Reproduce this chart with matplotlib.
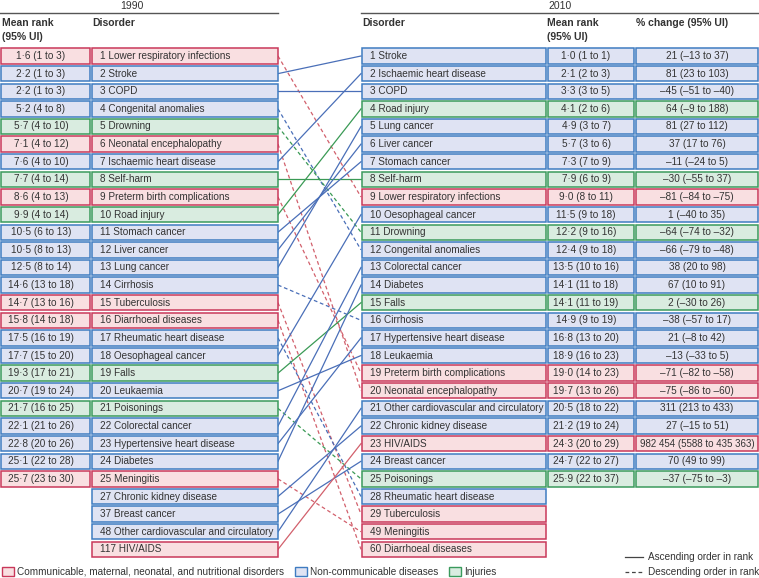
import matplotlib
matplotlib.use("Agg")
import matplotlib.pyplot as plt
from matplotlib.patches import Rectangle

plt.rcParams['font.family'] = ['Liberation Sans', 'DejaVu Sans']

# ---------------- data ----------------
dis1990 = ["Lower respiratory infections", "Stroke", "COPD", "Congenital anomalies",
           "Drowning", "Neonatal encephalopathy", "Ischaemic heart disease", "Self-harm",
           "Preterm birth complications", "Road injury", "Stomach cancer", "Liver cancer",
           "Lung cancer", "Cirrhosis", "Tuberculosis", "Diarrhoeal diseases",
           "Rheumatic heart disease", "Oesophageal cancer", "Falls", "Leukaemia",
           "Poisonings", "Colorectal cancer", "Hypertensive heart disease", "Diabetes",
           "Meningitis", "Chronic kidney disease", "Breast cancer",
           "Other cardiovascular and circulatory", "HIV/AIDS"]
rank1990 = [1, 2, 3, 4, 5, 6, 7, 8, 9, 10, 11, 12, 13, 14, 15, 16, 17, 18, 19, 20,
            21, 22, 23, 24, 25, 27, 37, 48, 117]
cat1990 = ["C", "N", "N", "N", "I", "C", "N", "I", "C", "I", "N", "N", "N", "N", "C", "C",
           "N", "N", "I", "N", "I", "N", "N", "N", "C", "N", "N", "N", "C"]
mean1990 = [1.6, 2.2, 2.2, 5.2, 5.7, 7.1, 7.6, 7.7, 8.6, 9.9, 10.5, 10.5, 12.5, 14.6,
            14.7, 15.8, 17.5, 17.7, 19.3, 20.7, 21.7, 22.1, 22.8, 25.1, 25.7]
lo1990 = [1, 1, 1, 4, 4, 4, 4, 4, 4, 4, 6, 8, 8, 13, 13, 14, 16, 15, 17, 19, 16, 21, 20, 22, 23]
hi1990 = [3, 3, 3, 8, 10, 12, 10, 14, 13, 14, 13, 13, 14, 18, 16, 18, 19, 20, 21, 24, 25,
          26, 26, 28, 30]

dis2010 = ["Stroke", "Ischaemic heart disease", "COPD", "Road injury", "Lung cancer",
           "Liver cancer", "Stomach cancer", "Self-harm", "Lower respiratory infections",
           "Oesophageal cancer", "Drowning", "Congenital anomalies", "Colorectal cancer",
           "Diabetes", "Falls", "Cirrhosis", "Hypertensive heart disease", "Leukaemia",
           "Preterm birth complications", "Neonatal encephalopathy",
           "Other cardiovascular and circulatory", "Chronic kidney disease", "HIV/AIDS",
           "Breast cancer", "Poisonings", "Rheumatic heart disease", "Tuberculosis",
           "Meningitis", "Diarrhoeal diseases"]
rank2010 = [1, 2, 3, 4, 5, 6, 7, 8, 9, 10, 11, 12, 13, 14, 15, 16, 17, 18, 19, 20,
            21, 22, 23, 24, 25, 28, 29, 49, 60]
cat2010 = ["N", "N", "N", "I", "N", "N", "N", "I", "C", "N", "I", "N", "N", "N", "I", "N",
           "N", "N", "C", "C", "N", "N", "C", "N", "I", "N", "C", "C", "C"]
mean2010 = [1.0, 2.1, 3.3, 4.1, 4.9, 5.7, 7.3, 7.9, 9.0, 11.5, 12.2, 12.4, 13.5, 14.1,
            14.1, 14.9, 16.8, 18.9, 19.0, 19.7, 20.5, 21.2, 24.3, 24.7, 25.9]
lo2010 = [1, 2, 3, 2, 3, 3, 7, 6, 8, 9, 9, 9, 10, 11, 11, 9, 13, 16, 14, 13, 18, 19, 20, 22, 22]
hi2010 = [1, 3, 5, 6, 7, 6, 9, 9, 11, 18, 16, 18, 16, 18, 19, 19, 20, 23, 23, 26, 22, 24,
          29, 27, 37]
pct = [21, 81, -45, 64, 81, 37, -11, -30, -81, 1, -64, -66, 38, 67, 2, -38, 21, -13,
       -71, -75, 311, 27, 982454, 70, -37]
pct_lo = [-13, 23, -51, -9, 27, 17, -24, -55, -84, -40, -74, -79, 20, 10, -30, -57, -8,
          -33, -82, -86, 213, -15, 5588, 49, -75]
pct_hi = [37, 103, -40, 188, 112, 76, 5, 37, -75, 35, -32, -48, 98, 91, 26, 17, 42, 5,
          -58, -60, 433, 51, 435363, 99, -3]

cat_names = {"C": "Communicable, maternal, neonatal, and nutritional disorders",
             "N": "Non-communicable diseases", "I": "Injuries"}

# ---------------- style ----------------
FILL = {"C": "#f9dfe1", "N": "#dfe3f3", "I": "#d9ece0"}
EDGE = {"C": "#c9385a", "N": "#3f7cc1", "I": "#3a9a5c"}
LINEC = {"C": "#d2606c", "N": "#4a6fb8", "I": "#3a9a55"}
TXT = "#333333"
FS = 7.2


def fnum(v):
    s = "%d" % abs(v)
    if abs(v) >= 10000:
        s = s[:-3] + " " + s[-3:]
    return ("\u2013" if v < 0 else "") + s


def fmean(m):
    return ("%.1f" % m).replace(".", "\u00b7")


fig = plt.figure(figsize=(7.59, 5.78), dpi=100)
ax = fig.add_axes([0, 0, 1, 1])
ax.set_xlim(0, 759)
ax.set_ylim(578, 0)
ax.axis("off")

Y0 = 48.3
PITCH = 17.62
BH = 15.4


def row_top(i):
    return Y0 + i * PITCH


def box(x0, x1, i, c):
    ax.add_patch(Rectangle((x0, row_top(i)), x1 - x0, BH, facecolor=FILL[c],
                           edgecolor=EDGE[c], lw=1.1, zorder=3))


# columns (pixel layout)
L_MR = (1, 89.5)
L_DIS = (91.5, 277.5)
R_DIS = (361.5, 545.5)
R_MR = (547.5, 633.5)
R_PC = (635.5, 758)

# headers
ax.text(132, 6, "1990", ha="center", va="center", fontsize=FS + 0.3, color=TXT)
ax.text(560, 6, "2010", ha="center", va="center", fontsize=FS + 0.3, color=TXT)
ax.plot([0, 278], [13, 13], color="#555555", lw=1.0)
ax.plot([361, 759], [13, 13], color="#555555", lw=1.0)
hkw = dict(fontsize=FS + 0.3, color=TXT, fontweight="bold", va="center", ha="left")
ax.text(2, 22.5, "Mean rank", **hkw)
ax.text(2, 37, "(95% UI)", **hkw)
ax.text(92, 22.5, "Disorder", **hkw)
ax.text(362, 22.5, "Disorder", **hkw)
ax.text(547, 22.5, "Mean rank", **hkw)
ax.text(547, 37, "(95% UI)", **hkw)
ax.text(636, 22.5, "% change (95% UI)", **hkw)

# 1990 column
for i, (d, r, c) in enumerate(zip(dis1990, rank1990, cat1990)):
    yc = row_top(i) + BH / 2
    box(*L_DIS, i, c)
    ax.text(L_DIS[0] + 8.5, yc, "%d %s" % (r, d), fontsize=FS, color=TXT,
            va="center", ha="left", zorder=4)
    if i < len(mean1990):
        box(*L_MR, i, c)
        ax.text(41, yc, "%s (%d to %d)" % (fmean(mean1990[i]), lo1990[i], hi1990[i]),
                fontsize=FS, color=TXT, va="center", ha="center", zorder=4)

# 2010 column
for i, (d, r, c) in enumerate(zip(dis2010, rank2010, cat2010)):
    yc = row_top(i) + BH / 2
    box(*R_DIS, i, c)
    ax.text(R_DIS[0] + 9, yc, "%d %s" % (r, d), fontsize=FS, color=TXT,
            va="center", ha="left", zorder=4)
    if i < len(mean2010):
        box(*R_MR, i, c)
        ax.text(586, yc, "%s (%d to %d)" % (fmean(mean2010[i]), lo2010[i], hi2010[i]),
                fontsize=FS, color=TXT, va="center", ha="center", zorder=4)
        box(*R_PC, i, c)
        label = "%s (%s to %s)" % (fnum(pct[i]), fnum(pct_lo[i]), fnum(pct_hi[i]))
        ax.text(697, yc, label, fontsize=FS if len(label) < 20 else FS - 0.2,
                color=TXT, va="center", ha="center", zorder=4)

# connecting lines
for i, d in enumerate(dis1990):
    j = dis2010.index(d)
    up = rank2010[j] <= rank1990[i]
    c = cat1990[i]
    ax.plot([L_DIS[1] + 0.5, R_DIS[0] - 0.5],
            [row_top(i) + BH / 2, row_top(j) + BH / 2],
            color=LINEC[c], lw=0.9, zorder=2,
            linestyle="-" if up else (0, (3, 2.2)))

# legend
lx = 2
for c in ["C", "N", "I"]:
    ax.add_patch(Rectangle((lx, 567), 12, 9, facecolor=FILL[c], edgecolor=EDGE[c], lw=1.0))
    t = ax.text(lx + 15, 572, cat_names[c], fontsize=FS, color=TXT, va="center", ha="left")
    fig.canvas.draw()
    bb = t.get_window_extent()
    lx = bb.x1 + 11

ax.plot([625, 643], [557, 557], color="#444444", lw=0.9)
ax.plot([625, 643], [572, 572], color="#444444", lw=0.9, linestyle=(0, (3, 2.2)))
ax.text(648, 557, "Ascending order in rank", fontsize=FS, color=TXT, va="center", ha="left")
ax.text(648, 572, "Descending order in rank", fontsize=FS, color=TXT, va="center", ha="left")

fig.savefig("out.png", dpi=100)
